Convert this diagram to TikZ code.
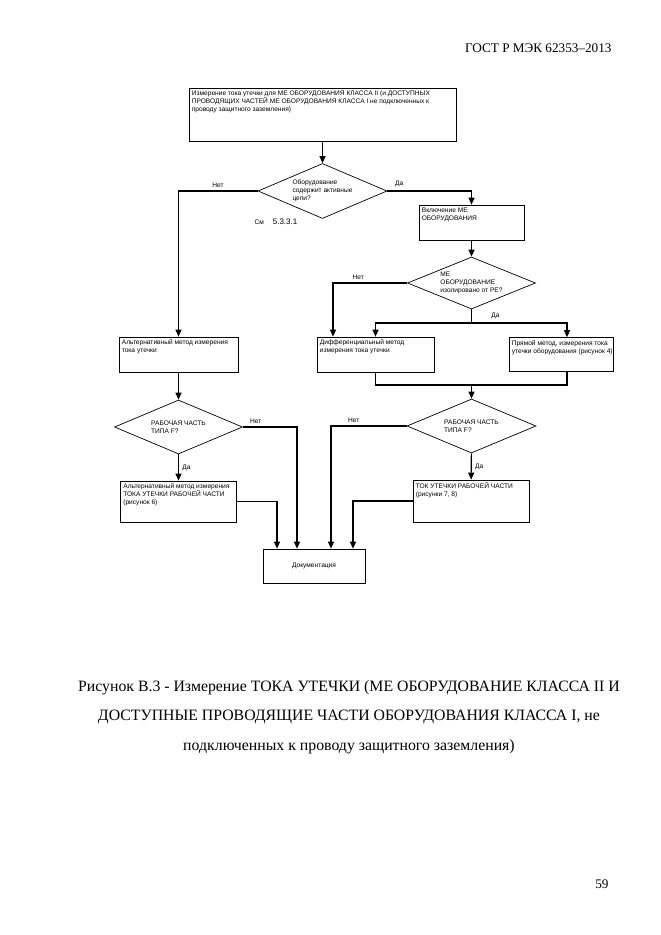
\documentclass[tikz,border=0pt]{standalone}
\usepackage{fontspec}
\setmainfont{Liberation Serif}
\newfontfamily\chartfont{Liberation Sans}
\usetikzlibrary{arrows.meta,shapes.geometric}

\begin{document}
\begin{tikzpicture}[x=1pt, y=-1pt,
    box/.style={draw, line width=0.7pt, inner sep=0pt},
    ask/.style={draw, diamond, line width=0.7pt, inner sep=0pt, aspect=2.4,
      align=left, font=\chartfont\fontsize{6.6}{8}\selectfont},
    txt/.style={anchor=north west, inner sep=3pt, align=left,
      font=\chartfont\fontsize{6.6}{8}\selectfont},
    small/.style={font=\chartfont\fontsize{6.6}{8}\selectfont},
    flow/.style={line width=1.1pt, -{Triangle[length=7pt, width=6pt]}},
    wire/.style={line width=1.1pt}]
  \fill[white] (0,0) rectangle (661,935);
  % Page header.
  \node[anchor=east, font=\fontsize{13.2}{15}\selectfont] (head) at (615,48) {ГОСТ Р МЭК 62353–2013};

  % Start box and first question.
  \node[box, minimum width=267, minimum height=53] (meas) at (322.5,114.5) {};
  \node[txt] (meas-t) at (meas.north west) {Измерение тока утечки для МЕ ОБОРУДОВАНИЯ КЛАССА II (и ДОСТУПНЫХ\\
    ПРОВОДЯЩИХ ЧАСТЕЙ МЕ ОБОРУДОВАНИЯ КЛАССА I не подключенных к\\
    проводу защитного заземления)};
  \node[ask, minimum width=129, minimum height=55] (q1) at (322.5,191) {Оборудование\\содержит активные\\цепи?};
  \node[small, anchor=west] (see) at (251,222) {См\hspace{9pt}{\fontsize{8}{9}\selectfont 5.3.3.1}};

  % Right branch: switching on, isolation question.
  \node[box, minimum width=105, minimum height=35] (on) at (471.5,222.5) {};
  \node[txt] (on-t) at (on.north west) {Включение МЕ\\ОБОРУДОВАНИЯ};
  \node[ask, minimum width=128, minimum height=52] (q2) at (471.5,283) {МЕ\\ОБОРУДОВАНИЕ\\изолировано от РЕ?};
  \node[box, minimum width=117, minimum height=35] (diff) at (375.5,354.5) {};
  \node[txt] (diff-t) at (diff.north west) {Дифференциальный метод\\измерения тока утечки};
  \node[box, minimum width=104, minimum height=34] (direct) at (561,354.5) {};
  \node[txt] (direct-t) at (direct.north west) {Прямой метод, измерения тока\\утечки оборудования (рисунок 4)};
  \node[ask, minimum width=129, minimum height=54] (q3) at (471.5,426) {РАБОЧАЯ ЧАСТЬ\\ТИПА F?};
  \node[box, minimum width=116, minimum height=42] (pcur) at (471,501) {};
  \node[txt] (pcur-t) at (pcur.north west) {ТОК УТЕЧКИ РАБОЧЕЙ ЧАСТИ\\(рисунки 7, 8)};

  % Left branch: alternative method.
  \node[box, minimum width=119, minimum height=35] (alt1) at (178.5,354.5) {};
  \node[txt] (alt1-t) at (alt1.north west) {Альтернативный метод измерения\\тока утечки};
  \node[ask, minimum width=128, minimum height=54] (q4) at (178.5,427) {РАБОЧАЯ ЧАСТЬ\\ТИПА F?};
  \node[box, minimum width=116, minimum height=41] (alt2) at (178.5,501.5) {};
  \node[txt] (alt2-t) at (alt2.north west) {Альтернативный метод измерения\\ТОКА УТЕЧКИ РАБОЧЕЙ ЧАСТИ\\(рисунок 6)};

  % Final box.
  \node[box, minimum width=102, minimum height=34] (doc) at (314,566) {};
  \node[small] (doc-t) at (doc) {Документация};

  % Connectors.
  \draw[flow] (meas) -- (q1);
  \draw[flow] (q1.west) -| (alt1.north) node[pos=0.25, above, small] {Нет};
  \draw[flow] (q1.east) -| (on.north) node[pos=0.07, above, small] {Да};
  \draw[flow] (on) -- (q2);
  \draw[flow] (q2.west) -| ([xshift=-42.5]diff.north) node[pos=0.33, above, small] {Нет};
  \coordinate (fork) at (471.5,323);
  \draw[wire] (q2.south) -- (fork) node[midway, right, xshift=16, small] {Да};
  \draw[flow] (fork) -| (diff.north);
  \draw[flow] (fork) -| ([xshift=6]direct.north);
  \coordinate (join) at (471.5,385);
  \draw[wire] (diff.south) |- (join) -| ([xshift=6]direct.south);
  \draw[flow] (join) -- (q3);
  \draw[flow] (q3.west) -| ([xshift=17]doc.north) node[pos=0.35, above, small] {Нет};
  \draw[flow] (q3) -- (pcur) node[midway, right, small] {Да};
  \draw[flow] (pcur.west) -| ([xshift=39]doc.north);
  \draw[flow] (alt1) -- (q4);
  \draw[flow] (q4.east) -| ([xshift=-17]doc.north) node[pos=0.12, above, small] {Нет};
  \draw[flow] (q4) -- (alt2) node[midway, right, small] {Да};
  \draw[flow] (alt2.east) -| ([xshift=-37]doc.north);

  % Caption and page number.
  \node[align=center, font=\fontsize{15.8}{29.5}\selectfont] (caption) at (349,717)
    {Рисунок В.3 - Измерение ТОКА УТЕЧКИ (МЕ ОБОРУДОВАНИЕ КЛАССА II И\\
     ДОСТУПНЫЕ ПРОВОДЯЩИЕ ЧАСТИ ОБОРУДОВАНИЯ КЛАССА I, не\\
     подключенных к проводу защитного заземления)};
  \node[anchor=east, font=\fontsize{13.2}{15}\selectfont] (pageno) at (612,884) {59};
\end{tikzpicture}
\end{document}
